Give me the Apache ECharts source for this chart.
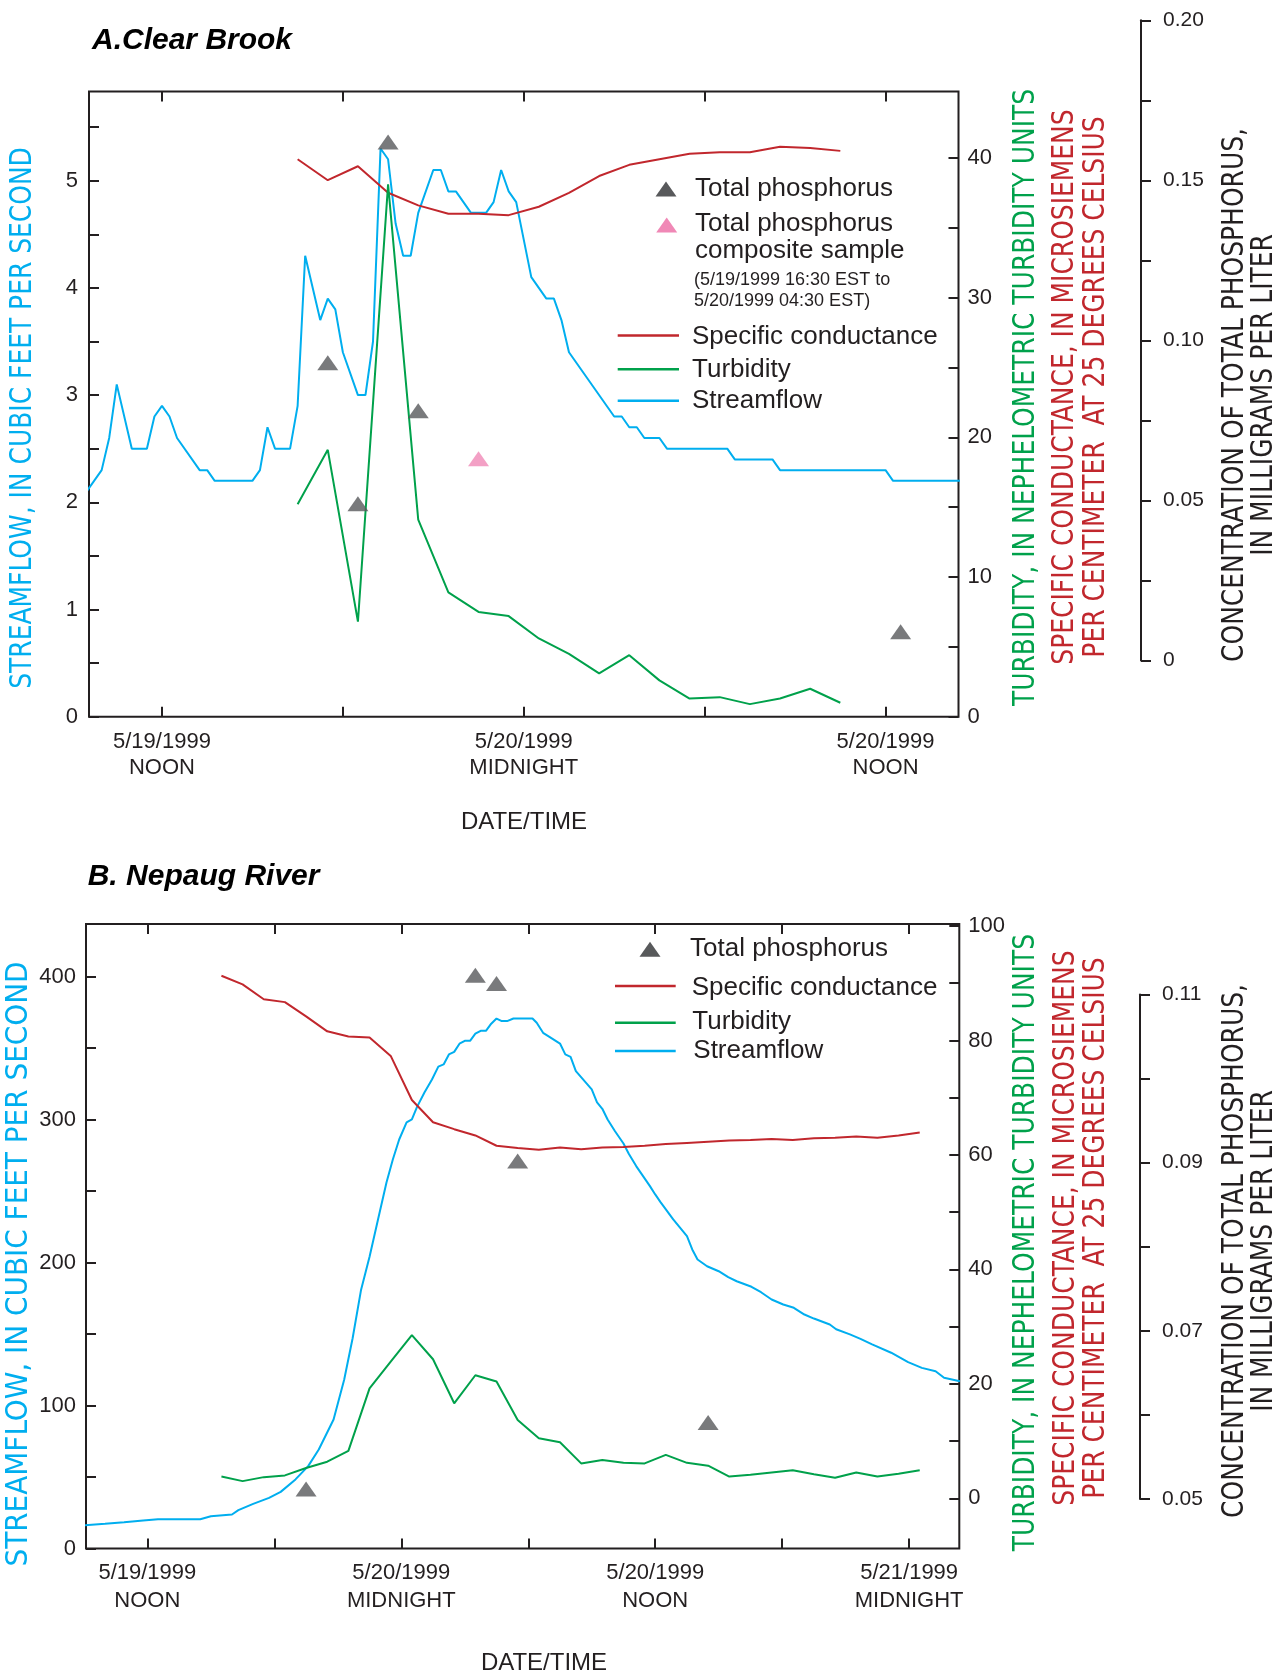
<!DOCTYPE html>
<html>
<head>
<meta charset="utf-8">
<script src="https://cdn.jsdelivr.net/npm/echarts@6/dist/echarts.min.js"></script>
<style>
html,body{margin:0;padding:0;background:#fff;}
#c{width:1284px;height:1677px;}
</style>
</head>
<body>
<div id="c"></div>
<script>
// ---------- DATA (time in hours counted from 5/19/1999 00:00 EST) ----------
// A. Clear Brook
const flowA_t = [9.5,10.0,10.25,10.5,11.0,11.5,11.75,12.0,12.25,12.5,13.25,13.5,13.75,15.0,15.25,15.5,15.75,16.25,16.5,16.75,17.25,17.5,17.75,18.0,18.5,18.75,19.0,19.25,19.5,19.75,20.0,20.25,20.5,21.0,21.25,21.5,21.75,22.25,22.75,23.0,23.25,23.5,23.75,24.25,24.75,25.0,25.25,25.5,27.0,27.25,27.5,27.75,28.0,28.5,28.75,30.75,31.0,32.25,32.5,36.0,36.25,38.5];
const flowA_v = [2.1,2.3,2.6,3.1,2.5,2.5,2.8,2.9,2.8,2.6,2.3,2.3,2.2,2.2,2.3,2.7,2.5,2.5,2.9,4.3,3.7,3.9,3.8,3.4,3.0,3.0,3.5,5.3,5.2,4.6,4.3,4.3,4.7,5.1,5.1,4.9,4.9,4.7,4.7,4.8,5.1,4.9,4.8,4.1,3.9,3.9,3.7,3.4,2.8,2.8,2.7,2.7,2.6,2.6,2.5,2.5,2.4,2.4,2.3,2.3,2.2,2.2];
const hourA_t = [16.5,17.5,18.5,19.5,20.5,21.5,22.5,23.5,24.5,25.5,26.5,27.5,28.5,29.5,30.5,31.5,32.5,33.5,34.5];
const turbA_v = [15.2,19.1,6.8,38.1,14.1,8.9,7.5,7.2,5.6,4.5,3.1,4.4,2.6,1.3,1.4,0.9,1.3,2.0,1.0];
const condA_v = [39.9,38.4,39.4,37.5,36.6,36.0,36.0,35.9,36.5,37.5,38.7,39.5,39.9,40.3,40.4,40.4,40.8,40.7,40.5];
const phosA_t = [17.5,18.5,19.5,20.5,36.5];
const phosA_v = [0.093,0.049,0.162,0.078,0.009];
const compA_t = [22.5];
const compA_v = [0.063];

// B. Nepaug River
const flowB_t = [9.0,10.0,10.9,11.8,12.5,14.5,15.0,16.0,16.3,17.0,17.75,18.3,19.0,19.6,20.1,20.8,21.3,21.7,22.1,22.5,22.9,23.3,23.6,23.9,24.25,24.5,24.75,25.1,25.45,25.75,26.0,26.25,26.5,26.75,27.0,27.25,27.5,27.75,28.0,28.25,28.5,28.75,29.0,29.3,30.2,30.4,30.7,31.0,31.5,31.75,32.0,32.25,33.0,33.25,33.5,33.75,34.1,34.5,34.75,35.1,35.75,36.0,36.25,36.85,37.5,37.75,38.0,38.45,39.0,39.45,39.85,40.55,41.0,41.5,42.05,42.55,43.05,43.5,44.25,44.55,45.2,45.7,46.25,47.15,47.95,48.6,49.25,49.65,50.4];
const flowB_v = [16.2,17.3,18.4,19.6,20.5,20.5,22.6,23.8,26.8,31.2,35.4,39.6,48.3,57.6,69.2,90.2,118,147,181,204,230,256,272,286,298,300,309,319,328,337,338.5,345.5,347.3,353,355,355,360,362,362,367,370.6,368.8,368.8,370.6,370.6,367.6,360.6,357.8,353.1,345.5,343.8,333.8,321,312,307.5,300,291.8,283.2,276,267.4,253.4,247.6,242.2,230.1,218.4,209.1,202.1,197.4,193.9,189.7,186.9,183.0,179.2,174.1,170.6,168.3,163.6,160.8,156.6,153.3,149.7,146.6,142.7,136.9,130.3,126.3,124.0,119.4,117.0];
const hourB_t = [15.5,16.5,17.5,18.5,19.5,20.5,21.5,22.5,23.5,24.5,25.5,26.5,27.5,28.5,29.5,30.5,31.5,32.5,33.5,34.5,35.5,36.5,37.5,38.5,39.5,40.5,41.5,42.5,43.5,44.5,45.5,46.5,47.5,48.5];
const condB_v = [91.3,89.8,87.2,86.7,84.2,81.6,80.7,80.5,77.3,69.6,65.7,64.5,63.4,61.6,61.2,60.9,61.3,61.0,61.3,61.4,61.6,61.9,62.1,62.3,62.5,62.6,62.8,62.6,62.9,63.0,63.2,63.0,63.4,63.9];
const turbB_v = [3.8,3.0,3.7,4.0,5.3,6.4,8.3,19.2,23.9,28.5,24.3,16.6,21.5,20.4,13.7,10.5,9.8,6.1,6.7,6.2,6.1,7.6,6.2,5.7,3.8,4.1,4.5,4.9,4.2,3.6,4.5,3.8,4.3,4.9];
const phosB_t = [19.5,27.5,28.5,29.5,38.5];
const phosB_v = [0.0512,0.1123,0.1113,0.0902,0.0591];

// ---------- TICKS / LABELS ----------
const xTicksA = [12,18,24,30,36];
const xLabelsA = [12,24,36];
const xTicksB = [12,18,24,30,36,42,48];
const xLabelsB = [12,24,36,48];
const xLabelText = {12:'5/19/1999\nNOON', 24:'5/20/1999\nMIDNIGHT', 36:'5/20/1999\nNOON', 48:'5/21/1999\nMIDNIGHT'};
const flowTicksA = [0,0.5,1,1.5,2,2.5,3,3.5,4,4.5,5,5.5];
const flowLabelsA = [0,1,2,3,4,5];
const rightTicksA = [0,5,10,15,20,25,30,35,40];
const rightLabelsA = [0,10,20,30,40];
const phosTicksA = [0,0.025,0.05,0.075,0.1,0.125,0.15,0.175,0.2];
const phosLabelsA = [0,0.05,0.1,0.15,0.2];
const flowTicksB = [0,50,100,150,200,250,300,350,400];
const flowLabelsB = [0,100,200,300,400];
const rightTicksB = [0,10,20,30,40,50,60,70,80,90,100];
const rightLabelsB = [0,20,40,60,80,100];
const phosTicksB = [0.05,0.06,0.07,0.08,0.09,0.10,0.11];
const phosLabelsB = [0.05,0.07,0.09,0.11];

// ---------- STYLE ----------
const INK = '#231f20', BLUE = '#00aeef', RED = '#c1272d', GREEN = '#00a14b', TRI = '#58595b', PINK = '#f088b6';
const FONT = '"Liberation Sans", Arial, Helvetica, sans-serif';
const NARROW = '"Liberation Sans Narrow", "DejaVu Sans Condensed", "Liberation Sans", sans-serif';

const zip = (t, v) => t.map((x, i) => [x, v[i]]);

function xAxisDef(gi, min, max, ticks, labels, pos, showLabel, margin, lh) {
  return {
    type: 'value', gridIndex: gi, min: min, max: max, position: pos,
    axisLine: {show: false, onZero: false}, splitLine: {show: false},
    axisTick: {show: true, inside: true, length: 10, customValues: ticks, lineStyle: {color: INK, width: 2}},
    axisLabel: {show: showLabel, customValues: labels, formatter: v => xLabelText[v] || '',
      color: INK, fontFamily: FONT, fontSize: 22, lineHeight: lh, margin: margin}
  };
}
function yAxisDef(gi, pos, min, max, ticks, labels, margin, fmt, offset, lineShow, inside, fs) {
  return {
    type: 'value', gridIndex: gi, position: pos, min: min, max: max, offset: offset || 0,
    axisLine: {show: !!lineShow, onZero: false, lineStyle: {color: INK, width: 2}}, splitLine: {show: false},
    axisTick: {show: true, inside: inside, length: 10, customValues: ticks, lineStyle: {color: INK, width: 2}},
    axisLabel: {customValues: labels, formatter: fmt || (v => String(v)), color: INK,
      fontFamily: FONT, fontSize: fs || 22, margin: margin}
  };
}
const phosFmt = v => v === 0 ? '0' : v.toFixed(2);

function vtext(x, y, text, color, lh, sx, fs) {
  return {type: 'text', x: x, y: y, rotation: Math.PI / 2, scaleX: sx || 0.925, z: 100,
    style: {text: text, fill: color, fontFamily: NARROW, fontSize: fs || 30, lineHeight: lh || 30,
      align: 'center', verticalAlign: 'middle', textAlign: 'center', textVerticalAlign: 'middle'}};
}
function htext(x, y, text, size, opts) {
  const o = opts || {};
  return {type: 'text', x: x, y: y, z: 100,
    style: {text: text, fill: o.color || INK, fontFamily: FONT, fontSize: size,
      fontWeight: o.weight || 'normal', fontStyle: o.style || 'normal', lineHeight: o.lh || size * 1.1,
      align: o.align || 'left', verticalAlign: o.va || 'middle',
      textAlign: o.align || 'left', textVerticalAlign: o.va || 'middle'}};
}
function tri(x, y, color) {
  return {type: 'polygon', x: x, y: y, z: 100, shape: {points: [[-10.5, 7.5], [10.5, 7.5], [0, -7.5]]}, style: {fill: color}};
}
function lseg(x1, x2, y, color) {
  return {type: 'line', z: 100, shape: {x1: x1, y1: y, x2: x2, y2: y}, style: {stroke: color, lineWidth: 2.5}};
}

const lineSeries = (name, xi, yi, data, color) => ({
  name: name, type: 'line', xAxisIndex: xi, yAxisIndex: yi, data: data, symbol: 'none',
  lineStyle: {color: color, width: 2}, itemStyle: {color: color}, animation: false
});
const triSeries = (name, xi, yi, data, color) => ({
  name: name, type: 'scatter', xAxisIndex: xi, yAxisIndex: yi, data: data, symbol: 'triangle',
  symbolSize: [21, 15], itemStyle: {color: color}, clip: false, z: 5, animation: false
});

const option = {
  backgroundColor: '#ffffff',
  animation: false,
  grid: [
    {left: 89, top: 91.5, width: 869.5, height: 625.2, show: true, borderColor: INK, borderWidth: 2, backgroundColor: 'transparent'},
    {left: 89, top: 20.3, width: 869.5, height: 640.2, show: false},
    {left: 86, top: 924, width: 873.3, height: 624.5, show: true, borderColor: INK, borderWidth: 2, backgroundColor: 'transparent'},
    {left: 86, top: 994.5, width: 873.3, height: 504.5, show: false}
  ],
  xAxis: [
    xAxisDef(0, 9.58, 38.42, xTicksA, xLabelsA, 'bottom', true, 12, 26),
    xAxisDef(0, 9.58, 38.42, xTicksA, [], 'top', false, 8, 26),
    {type: 'value', gridIndex: 1, min: 9.58, max: 38.42, show: false},
    xAxisDef(2, 9.10, 50.37, xTicksB, xLabelsB, 'bottom', true, 10, 28),
    xAxisDef(2, 9.10, 50.37, xTicksB, [], 'top', false, 8, 28),
    {type: 'value', gridIndex: 3, min: 9.10, max: 50.37, show: false}
  ],
  yAxis: [
    yAxisDef(0, 'left', 0, 5.832, flowTicksA, flowLabelsA, 11, null, 0, false, true),
    yAxisDef(0, 'right', 0, 44.75, rightTicksA, rightLabelsA, 9, null, 0, false, true),
    yAxisDef(1, 'right', 0, 0.2, phosTicksA, phosLabelsA, 22, phosFmt, 182.5, true, false, 21),
    yAxisDef(2, 'left', 0, 436.7, flowTicksB, flowLabelsB, 10, null, 0, false, true),
    yAxisDef(2, 'right', -8.77, 100.35, rightTicksB, rightLabelsB, 9, null, 0, false, true),
    yAxisDef(3, 'right', 0.05, 0.11, phosTicksB, phosLabelsB, 22, phosFmt, 180.7, true, false, 21)
  ],
  series: [
    lineSeries('Streamflow', 0, 0, zip(flowA_t, flowA_v), BLUE),
    lineSeries('Specific conductance', 0, 1, zip(hourA_t, condA_v), RED),
    lineSeries('Turbidity', 0, 1, zip(hourA_t, turbA_v), GREEN),
    triSeries('Total phosphorus', 2, 2, zip(phosA_t, phosA_v), TRI),
    triSeries('Total phosphorus composite sample', 2, 2, zip(compA_t, compA_v), PINK),
    lineSeries('Streamflow B', 3, 3, zip(flowB_t, flowB_v), BLUE),
    lineSeries('Specific conductance B', 3, 4, zip(hourB_t, condB_v), RED),
    lineSeries('Turbidity B', 3, 4, zip(hourB_t, turbB_v), GREEN),
    triSeries('Total phosphorus B', 5, 5, zip(phosB_t, phosB_v), TRI)
  ],
  graphic: [
    // titles
    htext(92, 40.6, 'A.Clear Brook', 30, {weight: 'bold', style: 'italic', color: '#000'}),
    htext(87.7, 876.6, 'B. Nepaug River', 30, {weight: 'bold', style: 'italic', color: '#000'}),
    // x-axis names
    htext(524, 822, 'DATE/TIME', 24, {align: 'center'}),
    htext(544, 1663.5, 'DATE/TIME', 24, {align: 'center'}),
    // y-axis names, chart A
    vtext(23.5, 418, 'STREAMFLOW, IN CUBIC FEET PER SECOND', BLUE),
    vtext(1026.5, 397.5, 'TURBIDITY, IN NEPHELOMETRIC TURBIDITY UNITS', GREEN),
    vtext(1080.5, 387, 'SPECIFIC CONDUCTANCE, IN MICROSIEMENS\nPER CENTIMETER  AT 25 DEGREES CELSIUS', RED, 31),
    vtext(1249.5, 395, 'CONCENTRATION OF TOTAL PHOSPHORUS,\nIN MILLIGRAMS PER LITER', INK, 29),
    // y-axis names, chart B
    vtext(19.2, 1264, 'STREAMFLOW, IN CUBIC FEET PER SECOND', BLUE, 30, 1.0, 31),
    vtext(1026.7, 1242.6, 'TURBIDITY, IN NEPHELOMETRIC TURBIDITY UNITS', GREEN),
    vtext(1081.7, 1228, 'SPECIFIC CONDUCTANCE, IN MICROSIEMENS\nPER CENTIMETER  AT 25 DEGREES CELSIUS', RED, 30),
    vtext(1249.5, 1251, 'CONCENTRATION OF TOTAL PHOSPHORUS,\nIN MILLIGRAMS PER LITER', INK, 29),
    // legend A
    tri(666, 189, TRI),
    htext(695, 189, 'Total phosphorus', 26),
    tri(666.7, 225, PINK),
    htext(695, 210, 'Total phosphorus\ncomposite sample', 26, {va: 'top', lh: 27}),
    htext(694, 269.5, '(5/19/1999 16:30 EST to\n5/20/1999 04:30 EST)', 18, {va: 'top', lh: 21}),
    lseg(617.7, 679, 335.5, RED),
    htext(692, 337, 'Specific conductance', 26),
    lseg(617.7, 679, 369.3, GREEN),
    htext(692, 369.5, 'Turbidity', 26),
    lseg(617.7, 679, 400.7, BLUE),
    htext(692, 401, 'Streamflow', 26),
    // legend B
    tri(650, 949.3, TRI),
    htext(690, 948.5, 'Total phosphorus', 26),
    lseg(615, 675.7, 986, RED),
    htext(691.7, 988, 'Specific conductance', 26),
    lseg(615, 675.7, 1022.7, GREEN),
    htext(692.3, 1021.7, 'Turbidity', 26),
    lseg(615, 675.7, 1051, BLUE),
    htext(693.3, 1051, 'Streamflow', 26)
  ]
};

const chart = echarts.init(document.getElementById('c'), null, {renderer: 'canvas', width: 1284, height: 1677});
chart.setOption(option);
</script>
</body>
</html>
